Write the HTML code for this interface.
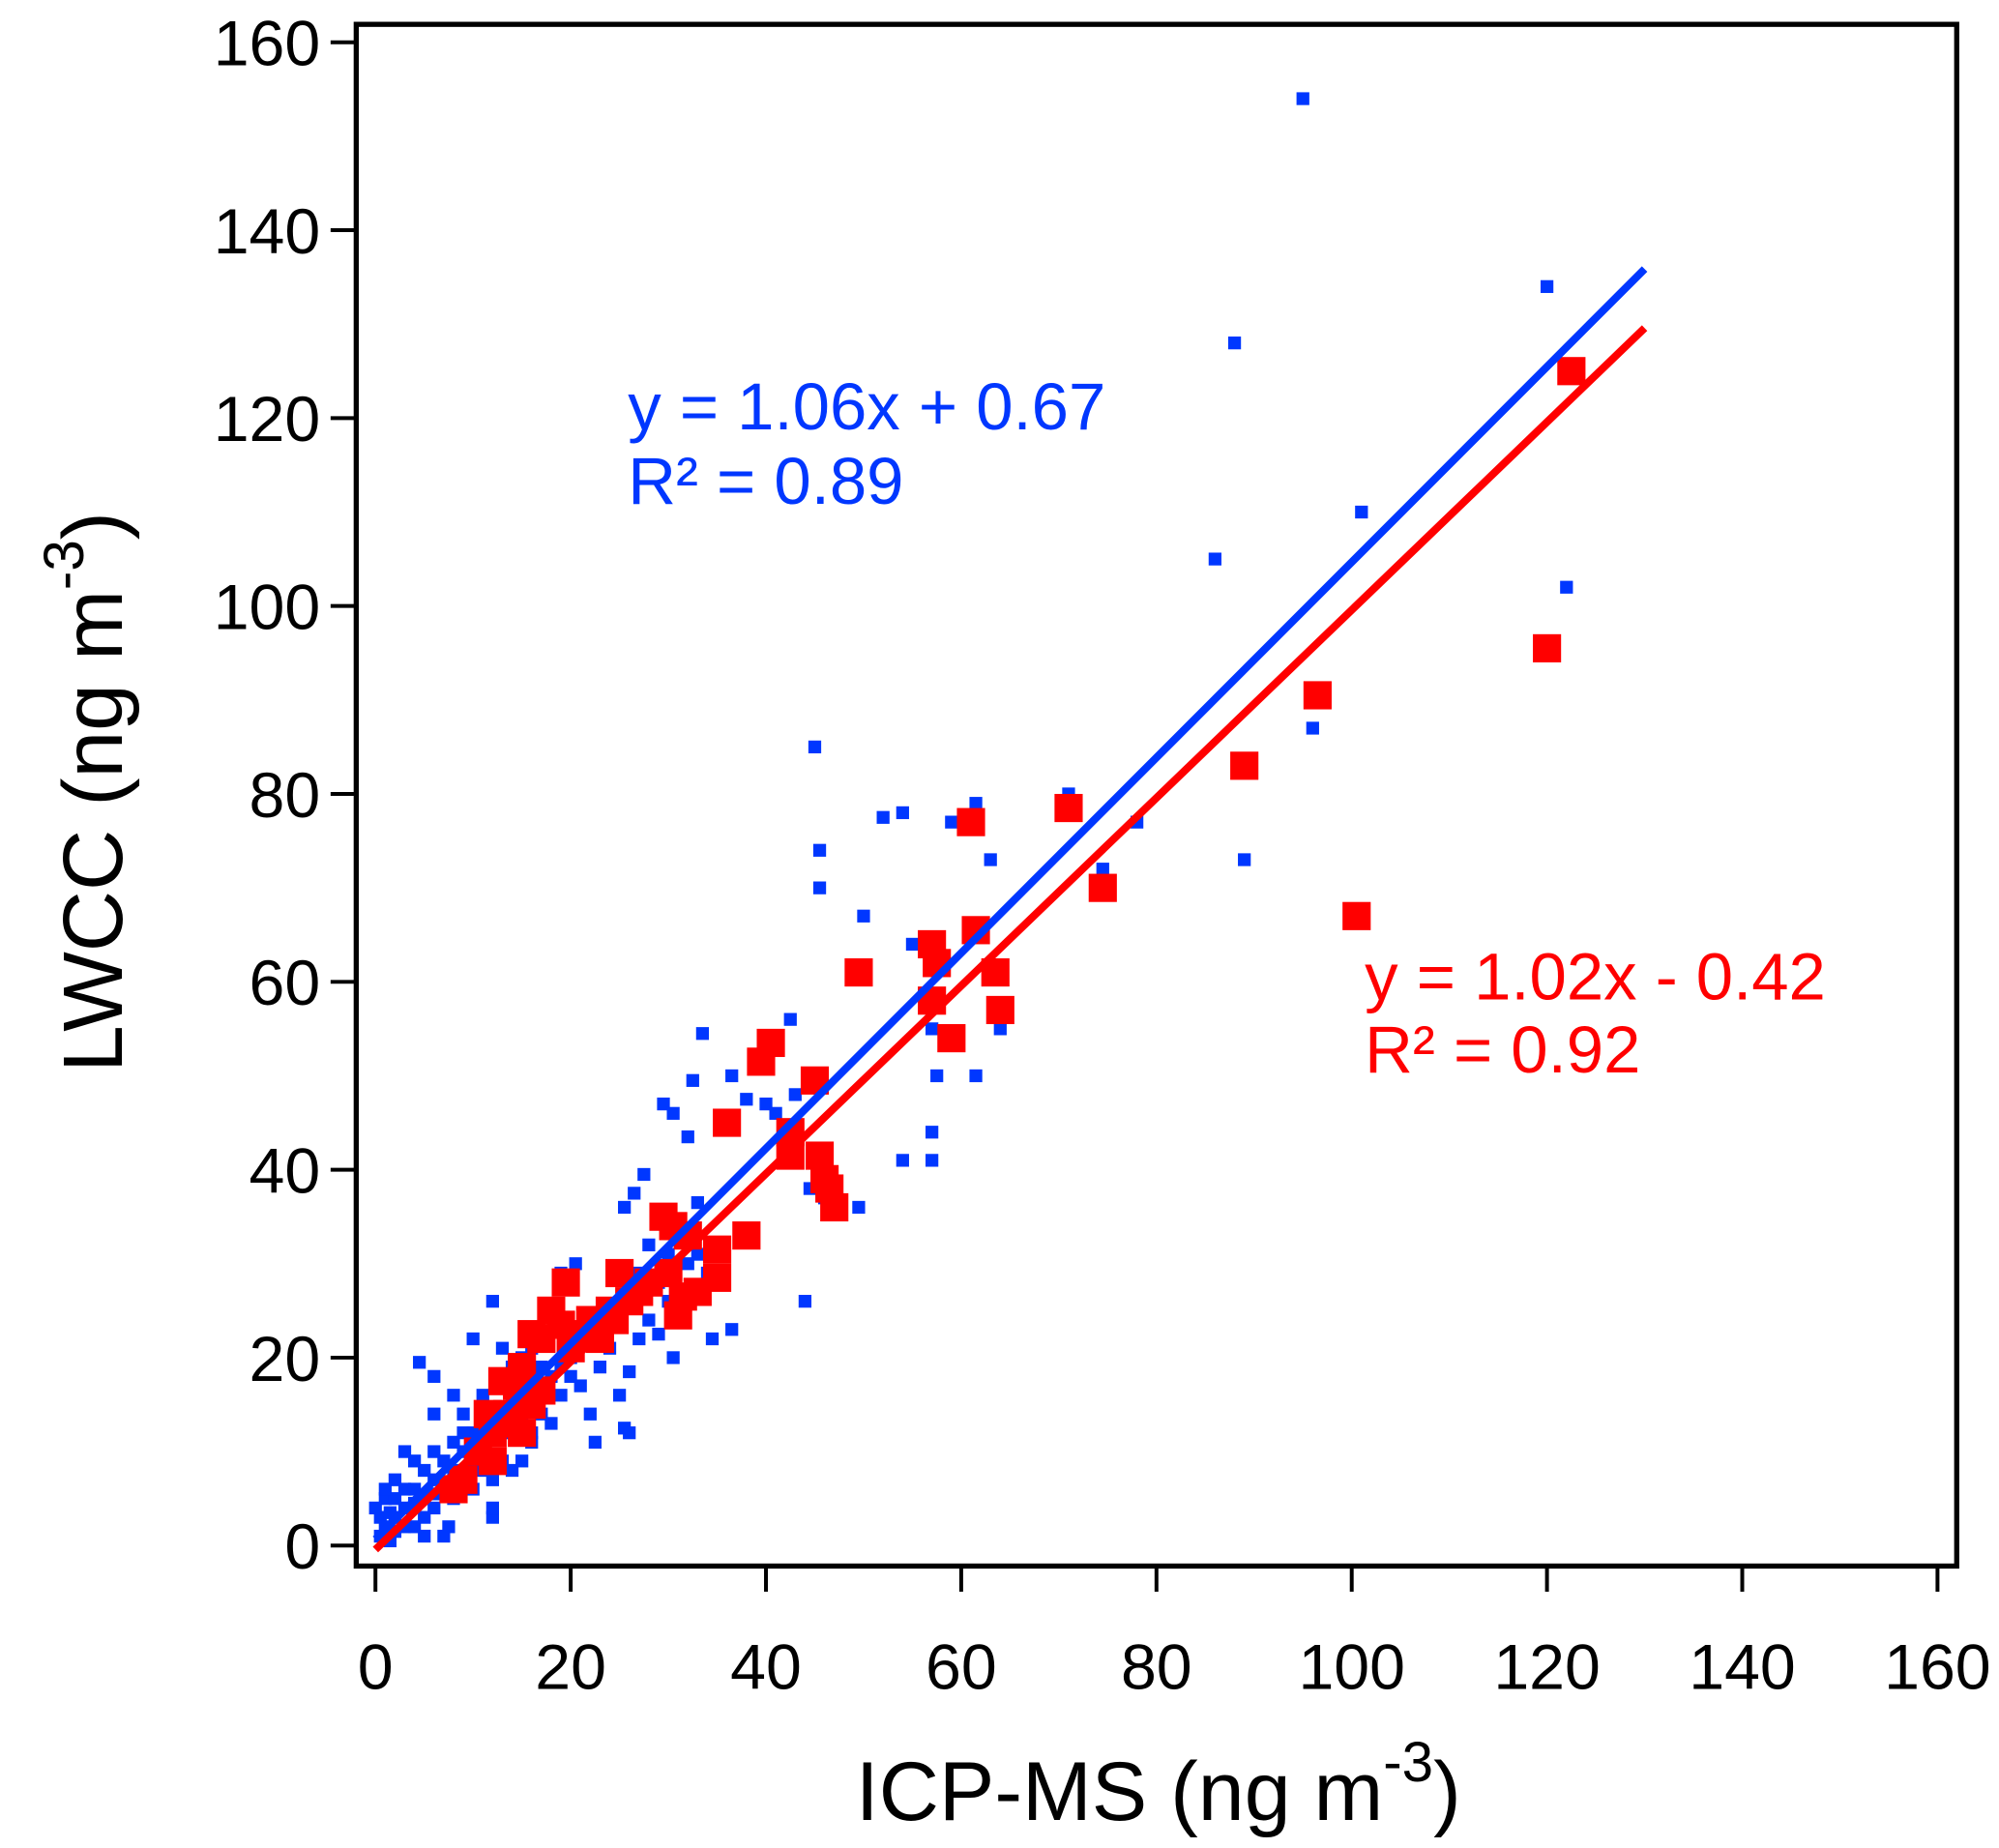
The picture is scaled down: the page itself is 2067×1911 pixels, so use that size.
<!DOCTYPE html>
<html><head><meta charset="utf-8"><style>
html,body{margin:0;padding:0;background:#fff}
svg{display:block}
text{font-family:"Liberation Sans",Arial,sans-serif}
</style></head><body>
<svg id="chart" width="2067" height="1911" viewBox="0 0 1560 1442" preserveAspectRatio="none" xmlns="http://www.w3.org/2000/svg">
<g id="blue"></g>
<g id="red"></g>
<g id="lines"></g>
<rect x="278" y="19" width="1249" height="1203" fill="none" stroke="#000" stroke-width="4"/>
<g id="axes"></g>
<text x="490" y="335" font-size="52" fill="#0037ff">y = 1.06x + 0.67</text>
<text x="490" y="393" font-size="52" fill="#0037ff">R² = 0.89</text>
<text x="1065" y="780" font-size="52" fill="#ff0000">y = 1.02x - 0.42</text>
<text x="1065" y="837" font-size="52" fill="#ff0000">R² = 0.92</text>
<text x="904" y="1420" font-size="65" text-anchor="middle">ICP-MS (ng m<tspan dy="-30" font-size="44">-3</tspan><tspan dy="30">)</tspan></text>
<text transform="translate(95,618) rotate(-90)" font-size="66" text-anchor="middle">LWCC (ng m<tspan dy="-30" font-size="44">-3</tspan><tspan dy="30">)</tspan></text>
</svg>
<script>
const xTicks=[0,20,40,60,80,100,120,140,160];
const yTicks=[0,20,40,60,80,100,120,140,160];
const blueX=[95,120,88,101,86,122,96,89,71,78,74.5,45,45.5,45.5,52,54,59,61.5,63,50,55,57,57.5,61.5,64,57,57,54,42.5,33.5,36.5,32.5,38,40,43,41,29.5,30.5,32,44.5,46,44,49.5,27.5,26.5,25.5,33,36.5,34.5,30.5,26,25,22,22.5,25.5,26,18,16,12,12,7.5,7,1.5,4.5,6,12,10,20.5,19,20,24,28,29,30,32,31,18.5,15,14,13,9,10,11,8,6,6,5,4,3,2,1,0.5,1,2,3,4,5,3,2,1,0,0.5,4,5,6,7,8,9,10,11,12,13,14,15,16,17,18,19,20,21,22,23,24,26,27,28,29,30,31,33,34,8,9,10,11,13,14,15,12,7,6,5,3,2,1.5,4,6,8,9,11,13,16,17,19,20,21,23,27,16,14,15];
const blueY=[154,134,128,110,105,102,87,73,80,77,72,85,74,70,77.5,78,77,79,73,67,64,55,50,50,55,44,41,41,56,54.5,50,49.5,47.5,47,48,46,47,46,43.5,38,37,26,36,39.5,37.5,36,36.5,23,22,20,18.5,16,14,11,12.5,12,13,11,3,4,2,1,0.5,19.5,18,26,22,30,29,20,25,24,22.5,31,30,27,24,20,19,21,14,12,16,16,14,10,8,9,10,7,5,3,2,3,4,2,1,6,5,6,4,1,6,5,7,9,8,10,9,11,13,14,12,15,17,14,18,19,21,22,23,24,21,28,29,32,28,26,25,31,29,5,7,6,8,9,8,9,7,6,4,3,2,1.5,3.5,4.5,5.5,11,12,14,17,21,19,16,18,17,19,22,12,15,13];
const redX=[122.5,120,96.5,89,100.5,71,74.5,61,57,57.5,61.5,63.5,64,59,57,49.5,40.5,39.5,45,42.5,42.5,45.5,46,46.5,47,36,38,35,35,33,31.5,31,30,29.5,30.5,32,28,27,26,25,24,23,24.5,22,21,19.5,18,19,17,16,15,14.5,13,13.5,12,11.5,12,8,9,10.5,16,17,14,15,20];
const redY=[125,95.5,90.5,83,67,78.5,70,77,64,62,65.5,61,57,54,58,61,53.5,51.5,49.5,44,41.5,41.5,39,38,36,45,33,31.5,28.5,27,26.5,24.5,29,35,34,33,28,27,26,29,25,22,24,24,22.5,28,25,23.5,22,22.5,19,17,17.5,14,12,14,9,6,7,10,15,16.5,13,12,21];
const blueFit=[1.04,0.67], redFit=[1.0,-0.42], fitRange=[0,130];
const NS="http://www.w3.org/2000/svg";
const sx=v=>293+v*(1512-293)/160;
const sy=v=>1206-v*(1206-33)/160;
function mk(tag,attrs,parent){const e=document.createElementNS(NS,tag);for(const k in attrs)e.setAttribute(k,attrs[k]);parent.appendChild(e);return e;}
const gb=document.getElementById('blue'),gr=document.getElementById('red'),gl=document.getElementById('lines'),ga=document.getElementById('axes');
blueX.forEach((x,i)=>{const r=mk('rect',{x:sx(x)-5,y:sy(blueY[i])-5,width:10,height:10,fill:'#0037ff'},gb);

});
redX.forEach((x,i)=>{const r=mk('rect',{x:sx(x)-11,y:sy(redY[i])-11,width:22,height:22,fill:'#ff0000'},gr);

});
[[blueFit,'#0037ff','blue-fit-line'],[redFit,'#ff0000','red-fit-line']].forEach(([f,c,n])=>{
const l=mk('line',{x1:sx(fitRange[0]),y1:sy(f[0]*fitRange[0]+f[1]),x2:sx(fitRange[1]),y2:sy(f[0]*fitRange[1]+f[1]),stroke:c,'stroke-width':6},gl);

});
xTicks.forEach(t=>{const l=mk('line',{x1:sx(t),y1:1222,x2:sx(t),y2:1242,stroke:'#000','stroke-width':3},ga);


const tx=mk('text',{x:sx(t),y:1318,'font-size':50,'text-anchor':'middle'},ga);tx.textContent=t;

});
yTicks.forEach(t=>{const l=mk('line',{x1:258,y1:sy(t),x2:278,y2:sy(t),stroke:'#000','stroke-width':3},ga);


const tx=mk('text',{x:250,y:sy(t)+18,'font-size':50,'text-anchor':'end'},ga);tx.textContent=t;

});
</script>
</body></html>
